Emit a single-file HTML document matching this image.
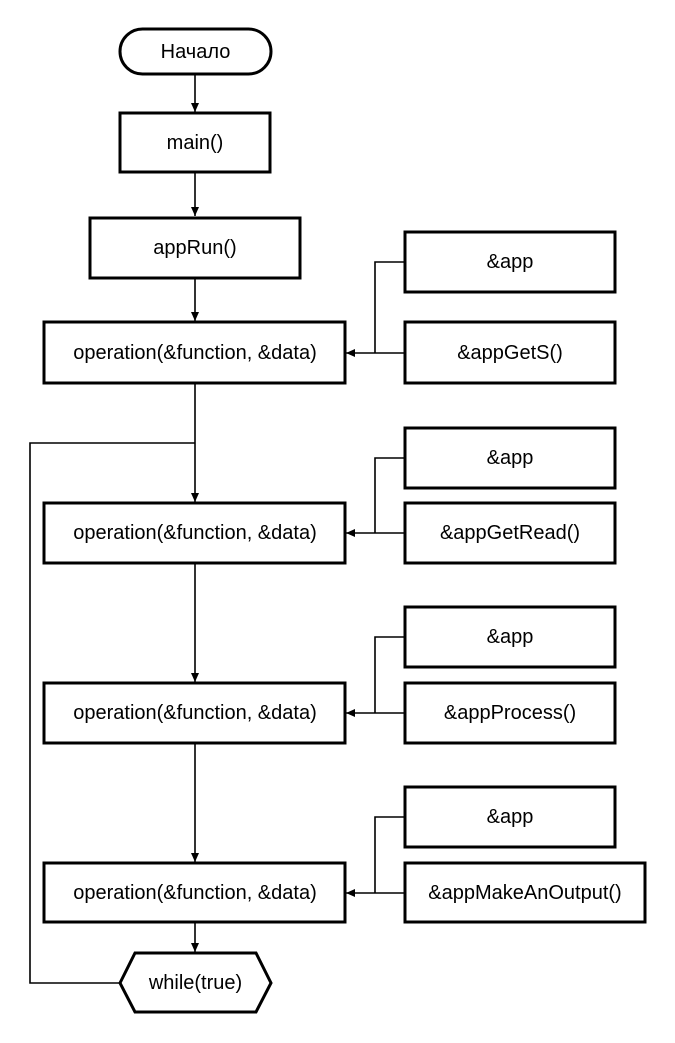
<!DOCTYPE html>
<html><head><meta charset="utf-8"><style>
html,body{margin:0;padding:0;background:#fff;}
svg{display:block;}
text{font-family:"Liberation Sans",Arial,sans-serif;font-size:20px;fill:#000;text-anchor:middle;dominant-baseline:central;}
.b{fill:#fff;stroke:#000;stroke-width:3;}
.l{fill:none;stroke:#000;stroke-width:1.6;}
</style></head><body>
<svg width="675" height="1043" viewBox="0 0 675 1043" xmlns="http://www.w3.org/2000/svg">
<defs><marker id="a" markerWidth="10" markerHeight="10" refX="9" refY="4" orient="auto" markerUnits="userSpaceOnUse"><path d="M0,0 L9,4 L0,8 z" fill="#000"/></marker></defs>
<!-- main vertical connectors -->
<line class="l" x1="195" y1="75" x2="195" y2="112" marker-end="url(#a)"/>
<line class="l" x1="195" y1="173" x2="195" y2="216" marker-end="url(#a)"/>
<line class="l" x1="195" y1="279" x2="195" y2="321" marker-end="url(#a)"/>
<line class="l" x1="195" y1="384" x2="195" y2="502" marker-end="url(#a)"/>
<line class="l" x1="195" y1="564" x2="195" y2="682" marker-end="url(#a)"/>
<line class="l" x1="195" y1="744" x2="195" y2="862" marker-end="url(#a)"/>
<line class="l" x1="195" y1="923" x2="195" y2="952" marker-end="url(#a)"/>
<!-- loop -->
<polyline class="l" points="120,983 30,983 30,443 195,443"/>
<!-- side connectors -->
<polyline class="l" points="405,262 375,262 375,353"/>
<line class="l" x1="405" y1="353" x2="346" y2="353" marker-end="url(#a)"/>
<polyline class="l" points="405,458 375,458 375,533"/>
<line class="l" x1="405" y1="533" x2="346" y2="533" marker-end="url(#a)"/>
<polyline class="l" points="405,637 375,637 375,713"/>
<line class="l" x1="405" y1="713" x2="346" y2="713" marker-end="url(#a)"/>
<polyline class="l" points="405,817 375,817 375,893"/>
<line class="l" x1="405" y1="893" x2="346" y2="893" marker-end="url(#a)"/>
<!-- shapes -->
<rect class="b" x="120" y="29" width="151" height="45" rx="22.5"/>
<text x="195.5" y="52">Начало</text>
<rect class="b" x="120" y="113" width="150" height="59"/>
<text x="195" y="143">main()</text>
<rect class="b" x="90" y="218" width="210" height="60"/>
<text x="195" y="248">appRun()</text>

<rect class="b" x="44" y="322" width="301" height="61"/>
<text x="195" y="353">operation(&amp;function, &amp;data)</text>
<rect class="b" x="405" y="232" width="210" height="60"/>
<text x="510" y="262">&amp;app</text>
<rect class="b" x="405" y="322" width="210" height="61"/>
<text x="510" y="353">&amp;appGetS()</text>

<rect class="b" x="44" y="503" width="301" height="60"/>
<text x="195" y="533">operation(&amp;function, &amp;data)</text>
<rect class="b" x="405" y="428" width="210" height="60"/>
<text x="510" y="458">&amp;app</text>
<rect class="b" x="405" y="503" width="210" height="60"/>
<text x="510" y="533">&amp;appGetRead()</text>

<rect class="b" x="44" y="683" width="301" height="60"/>
<text x="195" y="713">operation(&amp;function, &amp;data)</text>
<rect class="b" x="405" y="607" width="210" height="60"/>
<text x="510" y="637">&amp;app</text>
<rect class="b" x="405" y="683" width="210" height="60"/>
<text x="510" y="713">&amp;appProcess()</text>

<rect class="b" x="44" y="863" width="301" height="59"/>
<text x="195" y="893">operation(&amp;function, &amp;data)</text>
<rect class="b" x="405" y="787" width="210" height="60"/>
<text x="510" y="817">&amp;app</text>
<rect class="b" x="405" y="863" width="240" height="59"/>
<text x="525" y="893">&amp;appMakeAnOutput()</text>

<polygon class="b" points="120,983 135,953 256,953 271,983 256,1012 135,1012"/>
<text x="195.5" y="983">while(true)</text>
</svg>
</body></html>
